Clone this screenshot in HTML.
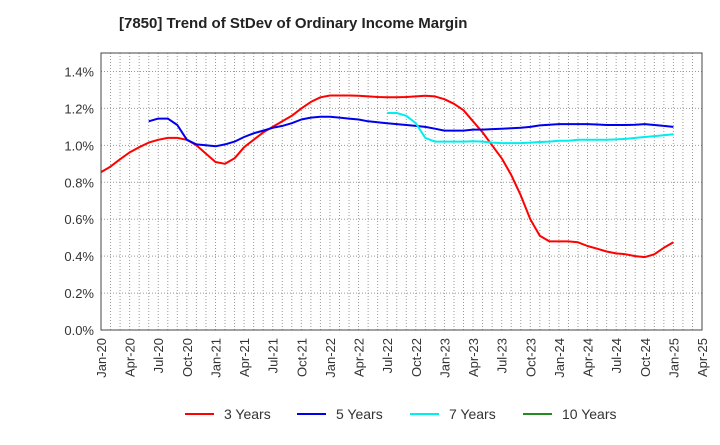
<!DOCTYPE html>
<html><head><meta charset="utf-8"><style>
body{margin:0;background:#fff;}
svg text{font-family:"Liberation Sans",Arial,sans-serif;}
</style></head><body>
<svg id="chart" width="720" height="440">
<text x="119" y="28" font-size="15" font-weight="bold" fill="#222">[7850]  Trend of StDev of Ordinary Income Margin</text>
<g id="grid"></g><g id="axes"></g><g id="series"></g><g id="legend"></g>
</svg>
<script>
const yTicks=[0,0.2,0.4,0.6,0.8,1.0,1.2,1.4];
const xLabels=["Jan-20","Apr-20","Jul-20","Oct-20","Jan-21","Apr-21","Jul-21","Oct-21","Jan-22","Apr-22","Jul-22","Oct-22","Jan-23","Apr-23","Jul-23","Oct-23","Jan-24","Apr-24","Jul-24","Oct-24","Jan-25","Apr-25"];
const s3y=[0.855,0.885,0.925,0.962,0.99,1.015,1.03,1.04,1.04,1.03,1.0,0.955,0.91,0.9,0.93,0.99,1.03,1.07,1.10,1.13,1.16,1.2,1.235,1.26,1.27,1.27,1.27,1.268,1.265,1.262,1.26,1.26,1.262,1.265,1.268,1.265,1.25,1.225,1.19,1.13,1.07,1.0,0.93,0.84,0.73,0.6,0.51,0.48,0.48,0.48,0.475,0.455,0.44,0.425,0.415,0.41,0.40,0.395,0.41,0.445,0.475];
const s5yStart=5;
const s5y=[1.13,1.145,1.145,1.11,1.03,1.005,1.0,0.995,1.005,1.02,1.045,1.065,1.08,1.095,1.105,1.12,1.14,1.15,1.155,1.155,1.15,1.145,1.14,1.13,1.125,1.12,1.115,1.11,1.105,1.1,1.09,1.08,1.08,1.08,1.085,1.085,1.088,1.09,1.092,1.095,1.1,1.108,1.112,1.115,1.115,1.115,1.115,1.113,1.11,1.11,1.11,1.112,1.115,1.11,1.105,1.1];
const s7yStart=30;
const s7y=[1.175,1.175,1.16,1.12,1.04,1.02,1.02,1.02,1.02,1.022,1.02,1.015,1.012,1.012,1.012,1.015,1.018,1.02,1.025,1.025,1.03,1.03,1.03,1.03,1.032,1.035,1.04,1.045,1.05,1.055,1.06];
const L=101,R=702,T=53,B=330;
const NS="http://www.w3.org/2000/svg";
const x=m=>L+m*(R-L)/63;
const y=v=>B-v*(B-T)/1.5;
function mk(p,tag,at){const e=document.createElementNS(NS,tag);for(const k in at)e.setAttribute(k,at[k]);document.getElementById(p).appendChild(e);return e;}
for(let m=1;m<63;m++){const e=mk('grid','line',{x1:x(m),x2:x(m),y1:T,y2:B,stroke:'#999','stroke-dasharray':'1,2','stroke-width':1});

}
yTicks.forEach(v=>{if(v>0){const e=mk('grid','line',{x1:L,x2:R,y1:y(v),y2:y(v),stroke:'#999','stroke-dasharray':'1,2'});

}
const t=mk('axes','text',{x:L-7,y:y(v)+5,'font-size':13,'text-anchor':'end',fill:'#333'});t.textContent=v.toFixed(1)+'%';

});
const fr=mk('axes','rect',{x:L,y:T,width:R-L,height:B-T,fill:'none',stroke:'#444','stroke-width':1});


xLabels.forEach((l,i)=>{const px=x(i*3);const t=mk('axes','text',{x:0,y:0,'font-size':13,'text-anchor':'end',fill:'#333',transform:`translate(${px+5},${B+8}) rotate(-90)`});t.textContent=l;

});
function line(data,start,color,name){const pts=data.map((v,i)=>x(start+i).toFixed(1)+','+y(v).toFixed(1)).join(' ');
const p=mk('series','polyline',{points:pts,fill:'none',stroke:color,'stroke-width':2,'stroke-linejoin':'round'});

}
line(s3y,0,'#ff0000','series-3-years');
line(s5y,s5yStart,'#0000ee','series-5-years');
line(s7y,s7yStart,'#00eeee','series-7-years');
const leg=[["3 Years","#ff0000",185],["5 Years","#0000ee",297],["7 Years","#00eeee",410],["10 Years","#228b22",523]];
leg.forEach(([n,c,lx])=>{const g=mk('legend','g',{});


const ln=document.createElementNS(NS,'line');ln.setAttribute('x1',lx);ln.setAttribute('x2',lx+29);ln.setAttribute('y1',414);ln.setAttribute('y2',414);ln.setAttribute('stroke',c);ln.setAttribute('stroke-width',2);g.appendChild(ln);
const t=document.createElementNS(NS,'text');t.setAttribute('x',lx+39);t.setAttribute('y',419);t.setAttribute('font-size',14);t.setAttribute('fill','#333');t.textContent=n;g.appendChild(t);});
</script>
</body></html>
